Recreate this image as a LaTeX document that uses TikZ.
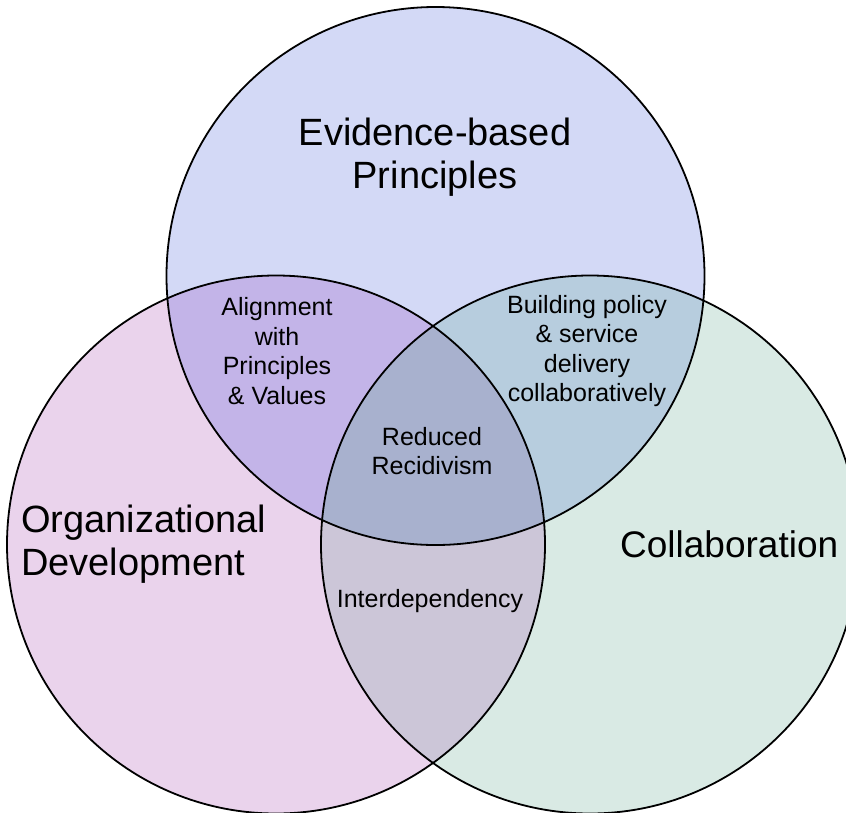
\documentclass[tikz,border=0pt]{standalone}
\usepackage{fontspec}
\setmainfont{Liberation Sans}
\usepackage{tikz}
\definecolor{evb}{HTML}{D3D9F6}
\definecolor{org}{HTML}{EAD3EC}
\definecolor{col}{HTML}{D9EAE4}
\definecolor{evborg}{HTML}{C3B4E8}
\definecolor{evbcol}{HTML}{B7CDDE}
\definecolor{orgcol}{HTML}{CCC6D8}
\definecolor{core}{HTML}{A8B1CE}

\begin{document}
\begin{tikzpicture}[x=1pt, y=-1pt,
  bigtext/.style={font=\fontsize{38}{43}\selectfont, align=center, inner sep=0pt},
  smalltext/.style={font=\fontsize{25}{29.5}\selectfont, align=center, inner sep=0pt}]
\clip (0,0) rectangle (846,812);
\def\rad{269pt}
\coordinate (evbc) at (435.5,276);
\coordinate (orgc) at (276,544.5);
\coordinate (colc) at (590,544.5);
% single circles
\foreach \c/\f in {evbc/evb, orgc/org, colc/col}{
\fill[\f] (\c) circle[radius=\rad];
}
% overlaps
\begin{scope}
\clip (evbc) circle[radius=\rad];
\fill[evborg] (orgc) circle[radius=\rad];
\fill[evbcol] (colc) circle[radius=\rad];
\end{scope}
\begin{scope}
\clip (orgc) circle[radius=\rad];
\fill[orgcol] (colc) circle[radius=\rad];
\end{scope}
\begin{scope}
\clip (evbc) circle[radius=\rad];
\clip (orgc) circle[radius=\rad];
\fill[core] (colc) circle[radius=\rad];
\end{scope}
% outlines
\foreach \c in {evbc, orgc, colc}{
\draw[line width=1.8pt] (\c) circle[radius=\rad];
}
% labels
\node[bigtext] (evbtext) at (435,157) {Evidence-based\\Principles};
\node[bigtext, align=left, anchor=west] (orgtext) at (21,544) {Organizational\\Development};
\node[bigtext, font=\fontsize{37}{43}\selectfont, anchor=west] (coltext) at (620,544) {Collaboration};
\node[smalltext] (evborgtext) at (277,351) {Alignment\\with\\Principles\\\& Values};
\node[smalltext] (evbcoltext) at (587,351) {Building policy\\\& service\\delivery\\collaboratively};
\node[smalltext] (coretext) at (432,451) {Reduced\\Recidivism};
\node[smalltext] (orgcoltext) at (430,601) {Interdependency};
\end{tikzpicture}
\end{document}
